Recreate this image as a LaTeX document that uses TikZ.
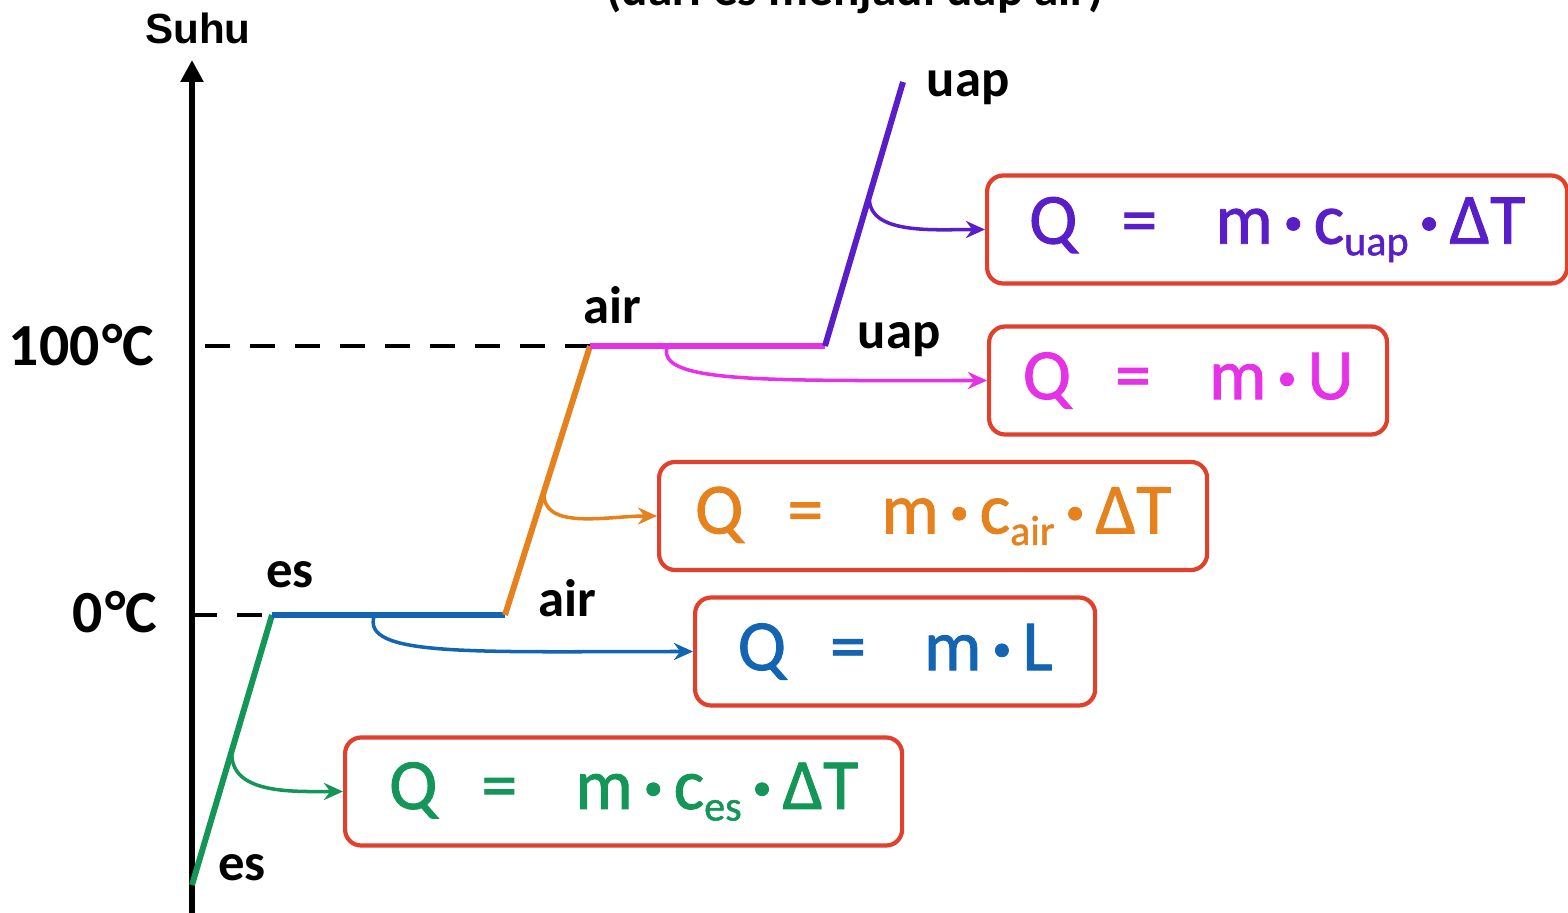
\documentclass[tikz,border=0pt]{standalone}
\usepackage{fontspec}
\setmainfont{Carlito}
\newfontfamily\arialfont{Liberation Sans}
\newfontfamily\qfont{Carlito}[FakeBold=1.2]
\usepackage{xcolor}
\usetikzlibrary{arrows.meta, positioning, calc}

\definecolor{esc}{HTML}{149658}
\definecolor{leburc}{HTML}{1464B4}
\definecolor{airc}{HTML}{E6821E}
\definecolor{uapanc}{HTML}{E632E6}
\definecolor{uapc}{HTML}{5A1EC8}
\definecolor{boxc}{HTML}{E0402C}

\newcommand{\Qis}{Q\hspace{0.44cm}=\hspace{0.58cm}}
\newcommand{\kali}{\hspace{0.11cm}{\bfseries\fontsize{20}{20}\selectfont ·}\hspace{0.11cm}}
\newcommand{\subc}[1]{\raisebox{-0.16em}{\fontsize{12}{12}\selectfont #1}}

\tikzset{
  phase/.style={line width=1.7pt},
  conn/.style={line width=1pt, -{Stealth[length=0.19cm, width=0.17cm]}},
  qbox/.style={draw=boxc, line width=1.2pt, rounded corners=0.16cm, fill=white,
    minimum height=1.08cm, inner sep=0pt, anchor=west, font=\qfont\fontsize{20.5}{24}\selectfont},
  state/.style={inner sep=0pt, font=\bfseries\fontsize{15}{18}\selectfont},
  tempmark/.style={inner sep=0pt, anchor=east, font=\bfseries\fontsize{17}{20}\selectfont},
  level/.style={line width=1.1pt, dash pattern=on 0.25cm off 0.20cm}
}

\begin{document}
\begin{tikzpicture}
  \useasboundingbox[fill=white] (0,0) rectangle (15.68,9.12);

  % Title (cut off at the top)
  \node[anchor=base, font=\bfseries\fontsize{14}{16}\selectfont] (judul) at (8.55,9.06) {(dari es menjadi uap air)};

  % Temperature axis
  \coordinate (o) at (1.92,-0.05);
  \coordinate (ytop) at (1.92,8.52);
  \draw[line width=1.5pt, -{Triangle[length=0.22cm, width=0.22cm]}] (o) -- (ytop);
  \node[anchor=base, inner sep=0pt, font=\arialfont\bfseries\fontsize{12}{14}\selectfont] (suhu) at (1.98,8.68) {Suhu};
  \node[tempmark] (t100) at (1.55,5.67) {100\kern0.04em°C};
  \node[tempmark] (t0) at (1.58,3.00) {0\kern0.04em°C};

  % Heating curve
  \coordinate (p0) at (1.92,0.27);
  \coordinate (p1) at (2.72,2.97);
  \coordinate (p2) at (5.05,2.97);
  \coordinate (p3) at (5.90,5.66);
  \coordinate (p4) at (8.25,5.66);
  \coordinate (p5) at (9.03,8.30);

  % Level lines
  \coordinate (d0) at (1.92,2.97);
  \coordinate (d100) at (2.05,5.66);
  \draw[level] (d0) -- (p1);
  \draw[level] (d100) -- (p3);

  \draw[phase, esc]    (p0) -- (p1);
  \draw[phase, leburc] (p1) -- (p2);
  \draw[phase, airc]   (p2) -- (p3);
  \draw[phase, uapanc] (p3) -- (p4);
  \draw[phase, uapc]   (p4) -- (p5);

  % State labels
  \node[state] (es1)  at (2.42,0.44) {es};
  \node[state] (es2)  at (2.90,3.37) {es};
  \node[state] (air1) at (5.67,3.14) {air};
  \node[state] (air2) at (6.12,6.07) {air};
  \node[state] (uap1) at (8.99,5.72) {uap};
  \node[state] (uap2) at (9.68,8.24) {uap};

  % Heat formulas
  \node[qbox, text=esc, minimum width=5.57cm]    (qes)    at (3.43,1.205) {\Qis m\kali c\subc{es}\kali ΔT};
  \node[qbox, text=leburc, minimum width=4.00cm] (qlebur) at (6.93,2.605) {\Qis m\kali L};
  \node[qbox, text=airc, minimum width=5.48cm]   (qair)   at (6.57,3.96)  {\Qis m\kali c\subc{air}\kali ΔT};
  \node[qbox, text=uapanc, minimum width=3.98cm] (quapan) at (9.87,5.315) {\Qis m\kali U};
  \node[qbox, text=uapc, minimum width=5.80cm]   (quap)   at (9.85,6.825) {\Qis m\kali c\subc{uap}\kali ΔT};

  % Connectors
  \coordinate (g0) at ($(p0)!0.50!(p1)$);
  \coordinate (b0) at ($(p1)!0.44!(p2)$);
  \coordinate (a0) at ($(p2)!0.46!(p3)$);
  \coordinate (m0) at ($(p3)!0.33!(p4)$);
  \coordinate (u0) at ($(p4)!0.57!(p5)$);
  \draw[conn, esc]    (g0) to[out=-95, in=180, out distance=0.45cm, in distance=0.5cm] (qes.west);
  \draw[conn, leburc] (b0) to[out=-110, in=180, out distance=0.45cm, in distance=2.2cm] (qlebur.west);
  \draw[conn, airc]   (a0) to[out=-95, in=180, out distance=0.4cm, in distance=0.5cm] (qair.west);
  \draw[conn, uapanc] (m0) to[out=-110, in=180, out distance=0.4cm, in distance=2.2cm] (quapan.west);
  \draw[conn, uapc]   (u0) to[out=-95, in=180, out distance=0.4cm, in distance=0.5cm] (quap.west);
\end{tikzpicture}
\end{document}
